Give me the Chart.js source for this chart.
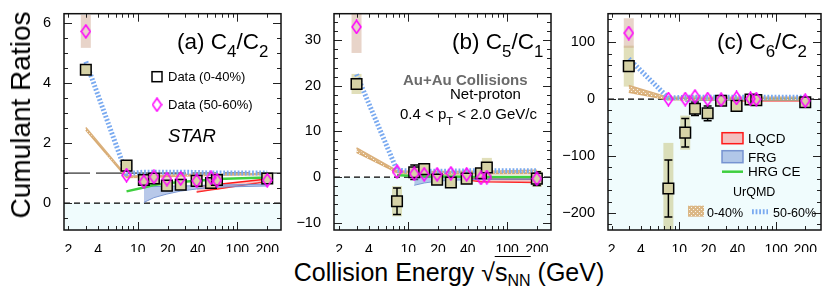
<!DOCTYPE html>
<html>
<head>
<meta charset="utf-8">
<script src="https://cdn.jsdelivr.net/npm/chart.js@4.4.0/dist/chart.umd.min.js"></script>
<style>
  body { margin: 0; background: #fff; width: 830px; height: 303px; position: relative; overflow: hidden;
         font-family: "Liberation Sans", Arial, sans-serif; }
  .panel { position: absolute; top: 0; }
  #ytitle { position: absolute; left: 21px; top: 115px; transform: translate(-50%, -50%) rotate(-90deg);
            font-size: 28px; line-height: 1; white-space: nowrap; }
  #xtitle { position: absolute; left: 449px; top: 260px; transform: translateX(-50%);
            font-size: 25px; line-height: 1; white-space: nowrap; }
  #xtitle .rt { border-top: 1.5px solid #000; padding-top: 1px; }
  #xtitle sub { font-size: 16px; vertical-align: -5px; }
</style>
</head>
<body>
<div class="panel" style="left:0"><canvas id="chartA" width="290" height="252"></canvas></div>
<div class="panel" style="left:290px"><canvas id="chartB" width="270" height="252"></canvas></div>
<div class="panel" style="left:560px"><canvas id="chartC" width="270" height="252"></canvas></div>
<div id="ytitle">Cumulant Ratios</div>
<div id="xtitle">Collision Energy √<span class="rt">s<sub>NN</sub></span> (GeV)</div>
<script>
// collision energies (GeV)
const energies = [3, 7.7, 11.5, 14.5, 19.6, 27, 39, 54.4, 62.4, 200];
const hrgEnergies = [7.7, 11.5, 14.5, 19.6, 27, 39, 54.4, 62.4, 200];
const frgEnergies = [11.5, 14.5, 19.6, 27, 39, 54.4, 62.4, 200];
const lqcdEnergies = [39, 54.4, 62.4, 200];

const xTickLabels = [2, 4, 10, 20, 40, 100, 200];
const xTickMarks = [2, 3, 4, 5, 6, 7, 8, 9, 10, 20, 30, 40, 50, 60, 70, 80, 90, 100, 200];

// (a) C4/C2
const c42Central = [4.45, 1.25, 0.77, 0.82, 0.58, 0.61, 0.74, 0.67, 0.77, 0.82];
const c42CentralStat = [0.05, 0.19, 0.07, 0.07, 0.06, 0.06, 0.05, 0.06, 0.06, 0.05];
const c42CentralSys = [0.08, 0.1, 0.04, 0.04, 0.03, 0.03, 0.03, 0.03, 0.03, 0.03];
const c42Periph = [5.73, 0.93, 0.71, 0.87, 0.8, 0.82, 0.74, 0.84, 0.76, 0.76];
const c42PeriphSys = [0.55, 0.05, 0.04, 0.04, 0.04, 0.04, 0.03, 0.04, 0.04, 0.04];
const c42UrqmdCentralHi = [2.52, 0.9, 0.91, 0.92, 0.93, 0.95, 0.96, 0.97, 0.97, 0.99];
const c42UrqmdCentralLo = [2.44, 0.85, 0.86, 0.87, 0.88, 0.9, 0.91, 0.93, 0.93, 0.95];
const c42UrqmdPeriph = [4.72, 0.98, 1.03, 1.03, 1.03, 1.03, 1.02, 1.0, 1.0, 1.0];
const c42Hrg = [0.39, 0.52, 0.6, 0.66, 0.7, 0.74, 0.78, 0.8, 0.85];
const c42FrgHi = [0.55, 0.55, 0.56, 0.57, 0.58, 0.6, 0.6, 0.63];
const c42FrgLo = [0.02, 0.18, 0.3, 0.4, 0.47, 0.52, 0.53, 0.57];
const c42LqcdHi = [0.55, 0.6, 0.62, 0.8];
const c42LqcdLo = [0.37, 0.44, 0.47, 0.72];
const c42YTicks = [0, 2, 4, 6];

// (b) C5/C1
const c51Central = [20.4, -5.3, 1.05, 1.75, -0.55, -1.2, -0.35, 0.85, 2.1, -0.35];
const c51CentralStat = [0.8, 2.9, 1.6, 1.2, 0.8, 0.8, 0.7, 1.0, 1.2, 1.5];
const c51CentralSys = [2.2, 3.3, 1.0, 1.0, 0.6, 1.0, 0.6, 0.8, 2.1, 1.8];
const c51Periph = [32.9, 1.2, 0.7, 0.6, 0.6, 0.8, 0.6, -0.2, 0.0, -0.35];
const c51PeriphSys = [5.7, 0.4, 0.3, 0.3, 0.3, 0.3, 0.3, 0.3, 0.3, 0.3];
const c51UrqmdCentralHi = [6.4, 1.4, 1.2, 1.2, 1.2, 1.2, 1.25, 1.3, 1.3, 1.5];
const c51UrqmdCentralLo = [5.4, 1.0, 0.6, 0.6, 0.6, 0.65, 0.7, 0.7, 0.7, 0.8];
const c51UrqmdPeriph = [22.5, 1.5, 1.3, 1.3, 1.3, 1.3, 1.35, 1.4, 1.4, 1.4];
const c51Hrg = [0.4, 0.3, 0.2, 0.15, 0.1, 0.05, 0.02, 0.0, 0.0];
const c51FrgHi = [-0.1, -0.1, -0.1, -0.1, -0.1, -0.1, -0.1, -0.2];
const c51FrgLo = [-1.8, -1.3, -0.9, -0.7, -0.6, -0.5, -0.5, -0.5];
const c51LqcdHi = [-0.3, -0.4, -0.4, -0.5];
const c51LqcdLo = [-0.6, -1.0, -1.05, -1.2];
const c51YTicks = [-10, 0, 10, 20, 30];

// (c) C6/C2
const c62Central = [57.9, -157, -59, -17, -25, -3, -12, -0.7, -1.8, -5.6];
const c62CentralStat = [4, 50, 25, 12, 13, 5, 5, 5, 6, 4];
const c62CentralSys = [36, 80, 30, 8, 8, 8, 6, 5, 10, 6];
const c62Periph = [116, 0, 0, 4.5, 0, -1, 2, 0.5, 0, -3];
const c62PeriphSys = [26, 2, 2, 2, 2, 2, 2, 2, 2, 2];
const c62UrqmdCentralHi = [24, 3, 3, 3, 3, 3, 3, 3, 3, 3];
const c62UrqmdCentralLo = [12, -1, -1, -1, -1, -1, -1, -1, -1, -1];
const c62UrqmdPeriph = [71, 2, 3, 3, 3, 3, 3, 3, 3, 3];
const c62Hrg = [1, 0.5, 0, 0, 0, 0, 0, 0, 0];
const c62FrgHi = [1, 1, 1, 1, 1, 1, 1, 1];
const c62FrgLo = [-4, -3, -2, -2, -2, -2, -2, -2];
const c62LqcdHi = [0, -0.5, -0.5, -1];
const c62LqcdLo = [-3, -3, -3, -3];
const c62YTicks = [-200, -100, 0, 100];

const FONT = '"Liberation Sans", Arial, sans-serif';
const tan = 'rgb(218,176,124)';
const khaki = 'rgb(214,210,166)';

function makeDiamond() {
  const c = document.createElement('canvas');
  c.width = 11; c.height = 15;
  const g = c.getContext('2d');
  g.strokeStyle = '#ff00ff';
  g.lineWidth = 1.5;
  g.beginPath();
  g.moveTo(5.5, 1); g.lineTo(10, 7.5); g.lineTo(5.5, 14); g.lineTo(1, 7.5); g.closePath();
  g.stroke();
  return c;
}
function makeTanPattern() {
  const c = document.createElement('canvas');
  c.width = 4; c.height = 4;
  const g = c.getContext('2d');
  g.fillStyle = 'rgba(214,166,104,0.8)';
  g.fillRect(0, 0, 4, 4);
  g.fillStyle = 'rgba(255,255,255,0.85)';
  g.fillRect(1, 1, 1, 1);
  g.fillRect(3, 3, 1, 1);
  return g.createPattern(c, 'repeat');
}
const diamondImg = makeDiamond();
const tanPattern = makeTanPattern();

const pts = (xs, ys) => xs.map((x, i) => ({ x: x, y: ys[i] }));

function drawRich(ctx, x, y, parts, size, opts) {
  opts = opts || {};
  let cx = x;
  parts.forEach(([t, sub]) => {
    const fs = sub ? size * 0.75 : size;
    ctx.font = `${opts.style || 'normal'} ${opts.weight || 'normal'} ${fs}px ${FONT}`;
    ctx.fillStyle = opts.color || '#000';
    ctx.textAlign = 'left';
    ctx.textBaseline = 'alphabetic';
    ctx.fillText(t, cx, y + (sub ? size * 0.38 : 0));
    cx += ctx.measureText(t).width;
  });
}

// draws background, reference lines, error bars, frame, ticks and texts
const decor = {
  id: 'decor',
  beforeDatasetsDraw(chart, args, o) {
    const { ctx, chartArea: a, scales: { x, y } } = chart;
    ctx.save();
    ctx.beginPath();
    ctx.rect(a.left, a.top, a.right - a.left, a.bottom - a.top);
    ctx.clip();
    const y0 = y.getPixelForValue(0);
    ctx.fillStyle = 'rgb(240,252,253)';
    ctx.fillRect(a.left, y0, a.right - a.left, a.bottom - y0);

    ctx.strokeStyle = '#000';
    ctx.lineWidth = 1.2;
    ctx.setLineDash([6, 4]);
    ctx.beginPath(); ctx.moveTo(a.left, y0); ctx.lineTo(a.right, y0); ctx.stroke();
    if (o.unityLine) {
      const y1 = y.getPixelForValue(1);
      ctx.lineWidth = 1;
      ctx.setLineDash([26, 6]);
      ctx.beginPath(); ctx.moveTo(a.left, y1); ctx.lineTo(a.right, y1); ctx.stroke();
    }
    ctx.setLineDash([]);

    // systematic boxes
    o.sysSets.forEach(s => {
      ctx.fillStyle = s.color;
      s.y.forEach((v, i) => {
        const px = x.getPixelForValue(energies[i]);
        const top = y.getPixelForValue(v + s.sys[i]);
        const bot = y.getPixelForValue(v - s.sys[i]);
        ctx.fillRect(px - 5, top, 10, bot - top);
      });
    });
    // statistical error bars
    ctx.strokeStyle = '#000';
    ctx.lineWidth = 1.5;
    o.stat.y.forEach((v, i) => {
      const px = x.getPixelForValue(energies[i]);
      const top = y.getPixelForValue(v + o.stat.err[i]);
      const bot = y.getPixelForValue(v - o.stat.err[i]);
      if (bot - top < 12) return;
      ctx.beginPath();
      ctx.moveTo(px, top); ctx.lineTo(px, bot);
      ctx.moveTo(px - 4, top); ctx.lineTo(px + 4, top);
      ctx.moveTo(px - 4, bot); ctx.lineTo(px + 4, bot);
      ctx.stroke();
    });
    ctx.restore();
  },
  afterDraw(chart, args, o) {
    const { ctx, chartArea: a, scales: { x, y } } = chart;
    ctx.save();
    ctx.strokeStyle = '#222';
    ctx.lineWidth = 1;
    ctx.beginPath();
    xTickMarks.forEach(v => {
      const px = Math.round(x.getPixelForValue(v)) + 0.5;
      const len = (v === 10 || v === 100) ? 8 : 4;
      ctx.moveTo(px, a.bottom); ctx.lineTo(px, a.bottom - len);
      ctx.moveTo(px, a.top); ctx.lineTo(px, a.top + len);
    });
    const step = o.minorStep;
    for (let v = Math.ceil(y.min / step) * step; v <= y.max; v += step) {
      const py = Math.round(y.getPixelForValue(v)) + 0.5;
      const major = o.yTicks.some(t => Math.abs(t - v) < 1e-6);
      const len = major ? 8 : 4;
      ctx.moveTo(a.left, py); ctx.lineTo(a.left + len, py);
      ctx.moveTo(a.right, py); ctx.lineTo(a.right - len, py);
    }
    ctx.stroke();
    ctx.lineWidth = 1.5;
    ctx.strokeStyle = '#111';
    ctx.strokeRect(a.left, a.top, a.right - a.left, a.bottom - a.top);

    o.notes.forEach(n => drawRich(ctx, a.left + n.x, a.top + n.y, n.parts, n.size, n));
    if (o.legend) o.legend(ctx, a);
    ctx.restore();
  }
};

function legendA(ctx, a) {
  ctx.strokeStyle = '#000';
  ctx.lineWidth = 1.5;
  ctx.strokeRect(a.left + 88, a.top + 58, 10, 10);
  ctx.drawImage(diamondImg, a.left + 87.5, a.top + 83.5);
}
function legendC(ctx, a) {
  const L = a.left, T = a.top;
  ctx.lineWidth = 1.5;
  ctx.fillStyle = 'rgba(245,140,140,0.55)';
  ctx.strokeStyle = '#ff1a1a';
  ctx.fillRect(L + 114, T + 119, 21, 11);
  ctx.strokeRect(L + 114, T + 119, 21, 11);
  ctx.fillStyle = 'rgba(125,155,215,0.55)';
  ctx.strokeStyle = 'rgba(110,140,205,0.9)';
  ctx.fillRect(L + 114, T + 137, 21, 12);
  ctx.strokeRect(L + 114, T + 137, 21, 12);
  ctx.strokeStyle = '#3fcf3f';
  ctx.lineWidth = 2.5;
  ctx.beginPath(); ctx.moveTo(L + 114, T + 158); ctx.lineTo(L + 135, T + 158); ctx.stroke();
  ctx.fillStyle = tanPattern;
  ctx.fillRect(L + 80, T + 192, 16, 11);
  ctx.strokeStyle = '#7aaaf0';
  ctx.lineWidth = 5;
  ctx.setLineDash([1.8, 1.8]);
  ctx.beginPath(); ctx.moveTo(L + 144, T + 198); ctx.lineTo(L + 160, T + 198); ctx.stroke();
  ctx.setLineDash([]);
}

function buildDatasets(d) {
  const line = { pointRadius: 0, tension: 0, fill: false };
  return [
    { label: 'Data (50-60%)', data: pts(energies, d.periph), showLine: false,
      pointStyle: diamondImg, pointRadius: 7, order: 0 },
    { label: 'Data (0-40%)', data: pts(energies, d.central), showLine: false, pointStyle: 'rect',
      pointRadius: 7.5, pointBackgroundColor: khaki, pointBorderColor: '#000', pointBorderWidth: 1.5, order: 1 },
    Object.assign({}, line, { label: 'UrQMD 50-60%', data: pts(energies, d.urqmdPeriph), borderColor: '#7aaaf0',
      borderWidth: 5, borderDash: [1.8, 1.8], order: 2 }),
    Object.assign({}, line, { label: 'UrQMD 0-40%', data: pts(energies, d.urqmdHi), borderColor: tan,
      borderWidth: 1.5, backgroundColor: tanPattern, fill: '+1', order: 3 }),
    Object.assign({}, line, { label: 'UrQMD 0-40% low', data: pts(energies, d.urqmdLo), borderColor: tan,
      borderWidth: 1.5, order: 3 }),
    Object.assign({}, line, { label: 'HRG CE', data: pts(hrgEnergies, d.hrg), borderColor: '#3fcf3f',
      borderWidth: 2.5, order: 4 }),
    Object.assign({}, line, { label: 'FRG', data: pts(frgEnergies, d.frgHi), borderColor: 'rgba(110,140,205,0.9)',
      borderWidth: 1, backgroundColor: 'rgba(125,155,215,0.55)', fill: '+1', order: 5 }),
    Object.assign({}, line, { label: 'FRG low', data: pts(frgEnergies, d.frgLo), borderColor: 'rgba(110,140,205,0.9)',
      borderWidth: 1, order: 5 }),
    Object.assign({}, line, { label: 'LQCD', data: pts(lqcdEnergies, d.lqcdHi), borderColor: '#ff1a1a',
      borderWidth: 1.5, backgroundColor: 'rgba(245,130,130,0.45)', fill: '+1', order: 6 }),
    Object.assign({}, line, { label: 'LQCD low', data: pts(lqcdEnergies, d.lqcdLo), borderColor: '#ff1a1a',
      borderWidth: 1.5, order: 6 })
  ];
}

function makePanel(id, d, p) {
  return new Chart(document.getElementById(id).getContext('2d'), {
    type: 'line',
    data: { datasets: buildDatasets(d) },
    options: {
      responsive: false,
      animation: false,
      layout: { padding: { top: 5, right: p.padRight, left: 0, bottom: 0 } },
      plugins: {
        legend: { display: false },
        tooltip: { enabled: false },
        decor: {
          unityLine: p.unityLine,
          yTicks: p.yTicks,
          minorStep: p.minorStep,
          sysSets: [
            { y: d.central, sys: d.centralSys, color: 'rgba(200,196,130,0.55)' },
            { y: d.periph, sys: d.periphSys, color: 'rgba(205,160,135,0.45)' }
          ],
          stat: { y: d.central, err: d.centralStat },
          notes: p.notes,
          legend: p.legend
        }
      },
      scales: {
        x: {
          type: 'logarithmic', min: p.xMin, max: p.xMax,
          grid: { display: false }, border: { display: false },
          afterBuildTicks: s => { s.ticks = xTickLabels.map(v => ({ value: v })); },
          afterFit: s => { s.height = 22; },
          ticks: { autoSkip: false, maxRotation: 0, padding: 4, color: '#000',
                   font: { family: FONT, size: 14 }, callback: v => String(v) }
        },
        y: {
          min: p.yMin, max: p.yMax,
          grid: { display: false }, border: { display: false },
          afterBuildTicks: s => { s.ticks = p.yTicks.map(v => ({ value: v })); },
          afterFit: s => { s.width = p.yWidth; },
          ticks: { padding: 5, color: '#000', font: { family: FONT, size: 14.5 },
                   callback: v => v < 0 ? '\u2212' + Math.abs(v) : String(v) }
        }
      }
    },
    plugins: [decor]
  });
}

makePanel('chartA', {
  central: c42Central, centralStat: c42CentralStat, centralSys: c42CentralSys,
  periph: c42Periph, periphSys: c42PeriphSys,
  urqmdHi: c42UrqmdCentralHi, urqmdLo: c42UrqmdCentralLo, urqmdPeriph: c42UrqmdPeriph,
  hrg: c42Hrg, frgHi: c42FrgHi, frgLo: c42FrgLo, lqcdHi: c42LqcdHi, lqcdLo: c42LqcdLo
}, {
  xMin: 1.81, xMax: 275, yMin: -0.9, yMax: 6.32, yTicks: c42YTicks, minorStep: 0.5,
  yWidth: 64, padRight: 6, unityLine: true,
  notes: [
    { x: 113, y: 35, size: 22.5, parts: [['(a) C', 0], ['4', 1], ['/C', 0], ['2', 1]] },
    { x: 104, y: 67.5, size: 13, parts: [['Data (0-40%)', 0]] },
    { x: 104, y: 95.5, size: 13, parts: [['Data (50-60%)', 0]] },
    { x: 104, y: 128, size: 18.5, style: 'italic', parts: [['STAR', 0]] }
  ],
  legend: legendA
});

makePanel('chartB', {
  central: c51Central, centralStat: c51CentralStat, centralSys: c51CentralSys,
  periph: c51Periph, periphSys: c51PeriphSys,
  urqmdHi: c51UrqmdCentralHi, urqmdLo: c51UrqmdCentralLo, urqmdPeriph: c51UrqmdPeriph,
  hrg: c51Hrg, frgHi: c51FrgHi, frgLo: c51FrgLo, lqcdHi: c51LqcdHi, lqcdLo: c51LqcdLo
}, {
  xMin: 1.775, xMax: 278, yMin: -11.6, yMax: 35.8, yTicks: c51YTicks, minorStep: 2,
  yWidth: 44, padRight: 2, unityLine: false,
  notes: [
    { x: 118, y: 35, size: 22.5, parts: [['(b) C', 0], ['5', 1], ['/C', 0], ['1', 1]] },
    { x: 69, y: 71.5, size: 15, weight: 'bold', color: '#6b6b6b', parts: [['Au+Au Collisions', 0]] },
    { x: 116, y: 85.5, size: 15, parts: [['Net-proton', 0]] },
    { x: 66, y: 105.5, size: 15, parts: [['0.4 < p', 0], ['T', 1], [' < 2.0 GeV/c', 0]] }
  ]
});

makePanel('chartC', {
  central: c62Central, centralStat: c62CentralStat, centralSys: c62CentralSys,
  periph: c62Periph, periphSys: c62PeriphSys,
  urqmdHi: c62UrqmdCentralHi, urqmdLo: c62UrqmdCentralLo, urqmdPeriph: c62UrqmdPeriph,
  hrg: c62Hrg, frgHi: c62FrgHi, frgLo: c62FrgLo, lqcdHi: c62LqcdHi, lqcdLo: c62LqcdLo
}, {
  xMin: 1.83, xMax: 291, yMin: -230, yMax: 150, yTicks: c62YTicks, minorStep: 20,
  yWidth: 48, padRight: 3, unityLine: false,
  notes: [
    { x: 109, y: 35, size: 22.5, parts: [['(c) C', 0], ['6', 1], ['/C', 0], ['2', 1]] },
    { x: 140, y: 129, size: 13.5, parts: [['LQCD', 0]] },
    { x: 140, y: 148, size: 13.5, parts: [['FRG', 0]] },
    { x: 140, y: 162.5, size: 13.5, parts: [['HRG CE', 0]] },
    { x: 125, y: 182, size: 12.5, parts: [['UrQMD', 0]] },
    { x: 99, y: 203, size: 12.5, parts: [['0-40%', 0]] },
    { x: 165, y: 203, size: 12.5, parts: [['50-60%', 0]] }
  ],
  legend: legendC
});
</script>
</body>
</html>
